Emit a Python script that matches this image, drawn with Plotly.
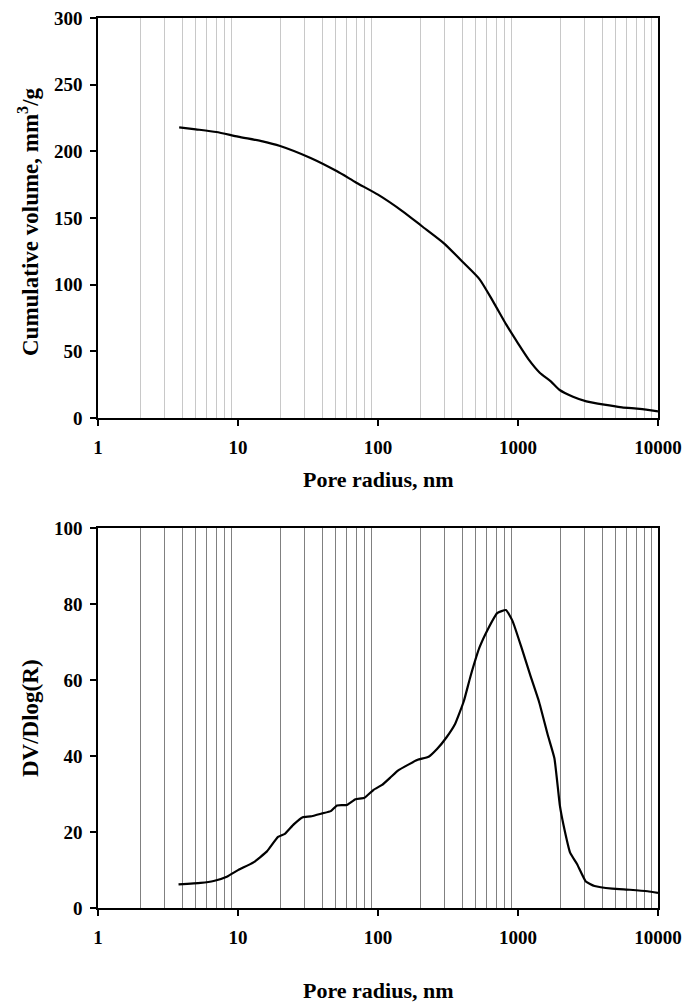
import plotly.graph_objects as go

# Cumulative volume (top panel)
cum_radius = [3.8, 5, 7, 10, 15, 20, 33, 51, 70, 100, 150, 205, 296, 412, 532, 663, 825,
              1000, 1190, 1430, 1715, 1985, 2470, 3080, 4130, 5530, 7410, 10000]
cum_volume = [218, 216.5, 214.5, 211, 207.5, 204, 195, 185, 176.5, 167.5, 155, 144, 131, 116,
              104, 87.5, 70, 56, 44, 34, 27.5, 21, 16, 12.5, 10, 8, 6.8, 5]

# Pore size distribution (bottom panel)
psd_radius = [3.76, 5.4, 6.7, 8.4, 10, 12.9, 16.1, 19.3, 21.6, 25, 29, 33, 40, 46, 51, 60, 69,
              80, 93, 107, 123, 138, 166, 192, 230, 265, 307, 356, 410, 458, 530, 612, 710,
              820, 915, 1060, 1220, 1410, 1630, 1820, 1990, 2110, 2360, 2640, 3050, 3520,
              4710, 6300, 8440, 10000]
psd_value = [6.2, 6.6, 7.1, 8.3, 9.96, 12, 14.9, 18.7, 19.5, 22, 23.9, 24.1, 24.9, 25.5, 27,
             27.1, 28.6, 29, 31.1, 32.4, 34.4, 36.1, 37.8, 39, 39.8, 41.9, 44.8, 48.5, 54.4,
             61, 68.5, 73.5, 77.6, 78.4, 75.5, 68.5, 61.4, 54.4, 45.6, 39.4, 27, 22, 14.5,
             11.6, 7, 5.8, 5.1, 4.8, 4.4, 4.0]

major_ticks = [1, 10, 100, 1000, 10000]
major_labels = ["1", "10", "100", "1000", "10000"]
minor_ticks = [m * d for d in [1, 10, 100, 1000] for m in range(2, 10)]

FONT = "Liberation Serif"
W, H = 688, 1007

fig = go.Figure()
fig.add_trace(go.Scatter(x=cum_radius, y=cum_volume, mode="lines",
                         line=dict(color="black", width=2.2, shape="spline", smoothing=0.6),
                         xaxis="x", yaxis="y", showlegend=False))
fig.add_trace(go.Scatter(x=psd_radius, y=psd_value, mode="lines",
                         line=dict(color="black", width=2.2, shape="spline", smoothing=0.4),
                         xaxis="x2", yaxis="y2", showlegend=False))

def xax(domain, gridcolor, anchor):
    return dict(type="log", range=[0, 4], domain=domain, anchor=anchor, automargin=False,
                tickvals=major_ticks, ticktext=major_labels, showgrid=False,
                ticks="outside", ticklen=6, tickwidth=1.5, tickcolor="black",
                ticklabelstandoff=5,
                showline=True, linecolor="black", linewidth=1.5, mirror=True,
                zeroline=False,
                tickfont=dict(family=FONT, size=19, color="black", weight="bold"),
                minor=dict(tickmode="array", tickvals=minor_ticks, showgrid=True,
                           gridcolor=gridcolor, gridwidth=1, ticks=""))

def yax(domain, rng, dtick, anchor):
    return dict(range=rng, domain=domain, anchor=anchor, dtick=dtick, showgrid=False,
                automargin=False,
                ticks="outside", ticklen=6, tickwidth=1.5, tickcolor="black",
                ticklabelstandoff=4,
                showline=True, linecolor="black", linewidth=1.5, mirror=True,
                zeroline=False,
                tickfont=dict(family=FONT, size=19, color="black", weight="bold"))

xd = [98 / W, 658 / W]
top_y = [1 - 418 / H, 1 - 18 / H]
bot_y = [1 - 908 / H, 1 - 528 / H]

title_font = dict(family=FONT, size=22, color="black", weight="bold")
ytitle_font = dict(family=FONT, size=23, color="black", weight="bold")

fig.update_layout(
    width=W, height=H, margin=dict(l=0, r=0, t=0, b=0, autoexpand=False),
    paper_bgcolor="white", plot_bgcolor="white",
    xaxis=xax(xd, "#c8c8c8", "y"),
    yaxis=yax(top_y, [0, 300], 50, "x"),
    xaxis2=xax(xd, "#808080", "y2"),
    yaxis2=yax(bot_y, [0, 100], 20, "x2"),
    annotations=[
        dict(text="Pore radius, nm", x=378 / W, y=1 - 480 / H, xref="paper", yref="paper",
             xanchor="center", yanchor="middle", showarrow=False, font=title_font),
        dict(text="Pore radius, nm", x=378 / W, y=1 - 990 / H, xref="paper", yref="paper",
             xanchor="center", yanchor="middle", showarrow=False, font=title_font),
        dict(text="Cumulative volume, mm<sup>3</sup>/g", x=28 / W, y=1 - 222 / H,
             xref="paper", yref="paper", textangle=-90, xanchor="center", yanchor="middle",
             showarrow=False, font=ytitle_font),
        dict(text="DV/Dlog(R)", x=30 / W, y=1 - 718 / H,
             xref="paper", yref="paper", textangle=-90, xanchor="center", yanchor="middle",
             showarrow=False, font=ytitle_font),
    ],
)

fig.write_html("out.html")
